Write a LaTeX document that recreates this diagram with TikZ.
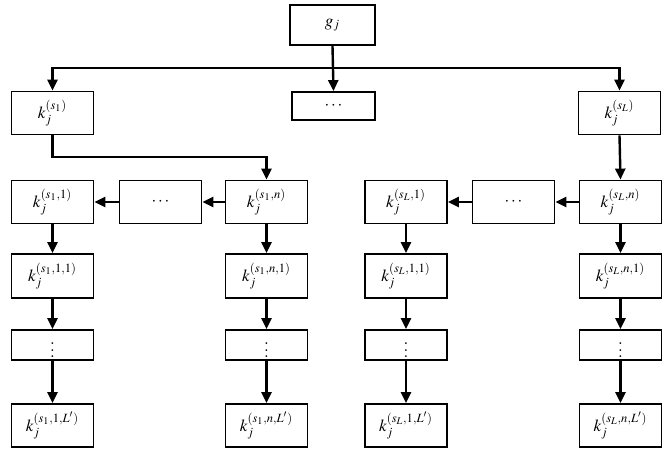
\documentclass[tikz,border=0pt]{standalone}
\usepackage{mathptmx}
\usepackage{graphicx}
\usetikzlibrary{arrows.meta}
\newcommand{\lbl}[1]{\scalebox{1.7}{$#1$}}
\begin{document}
\begin{tikzpicture}[x=1pt,y=-1pt,
  box/.style={draw,line width=1.8pt,minimum width=82pt,minimum height=43pt,inner sep=0pt},
  arr/.style={line width=2.4pt,-{Triangle[length=11pt,width=10pt]}}]
\useasboundingbox (0,0) rectangle (672,462);
% row 0
\node[box,minimum width=85pt,minimum height=40pt] (g) at (332.5,25) {\lbl{g_j}};
% row 1
\node[box] (ks1) at (52.5,113) {\lbl{k_j^{(s_1)}}};
\node[box,minimum width=83pt,minimum height=28pt] (md) at (333.5,106) {\lbl{\cdots}};
\node[box] (ksL) at (619.5,113) {\lbl{k_j^{(s_L)}}};
\coordinate (split) at (332.5,68);
\coordinate (turn) at (52.5,157);
% row 2
\node[box] (a1) at (52.5,202) {\lbl{k_j^{(s_1,1)}}};
\node[box] (ad) at (160.5,202) {\lbl{\cdots}};
\node[box] (an) at (266.5,202) {\lbl{k_j^{(s_1,n)}}};
\node[box] (b1) at (406,202) {\lbl{k_j^{(s_L,1)}}};
\node[box] (bd) at (513.5,202) {\lbl{\cdots}};
\node[box] (bn) at (620.5,202) {\lbl{k_j^{(s_L,n)}}};
% row 3
\node[box,minimum height=44pt] (a11) at (52.5,276) {\lbl{k_j^{(s_1,1,1)}}};
\node[box,minimum height=44pt] (an1) at (266.5,276) {\lbl{k_j^{(s_1,n,1)}}};
\node[box,minimum height=44pt] (b11) at (406,276) {\lbl{k_j^{(s_L,1,1)}}};
\node[box,minimum height=44pt] (bn1) at (620.5,276) {\lbl{k_j^{(s_L,n,1)}}};
% row 4
\node[box,minimum height=30pt] (a1v) at (52.5,345) {\lbl{\vdots}};
\node[box,minimum height=30pt] (anv) at (266.5,345) {\lbl{\vdots}};
\node[box,minimum height=30pt] (b1v) at (406,345) {\lbl{\vdots}};
\node[box,minimum height=30pt] (bnv) at (620.5,345) {\lbl{\vdots}};
% row 5
\node[box] (a1L) at (52.5,425.5) {\lbl{k_j^{(s_1,1,L')}}};
\node[box] (anL) at (266.5,425.5) {\lbl{k_j^{(s_1,n,L')}}};
\node[box] (b1L) at (406,425.5) {\lbl{k_j^{(s_L,1,L')}}};
\node[box] (bnL) at (620.5,425.5) {\lbl{k_j^{(s_L,n,L')}}};
% connectors
\draw[arr] (g.south) -- (md.north);
\draw[arr] (split) -| (ks1.north);
\draw[arr] (split) -| (ksL.north);
\draw[arr] (ks1.south) -- (turn) -| (an.north);
\draw[arr] (ksL.south) -- (bn.north);
\draw[arr] (an.west) -- (ad.east);
\draw[arr] (ad.west) -- (a1.east);
\draw[arr] (bn.west) -- (bd.east);
\draw[arr] (bd.west) -- (b1.east);
\foreach \c in {a1,an,b1,bn}{
  \draw[arr] (\c.south) -- (\c1.north);
  \draw[arr] (\c1.south) -- (\c v.north);
  \draw[arr] (\c v.south) -- (\c L.north);
}
\end{tikzpicture}
\end{document}
